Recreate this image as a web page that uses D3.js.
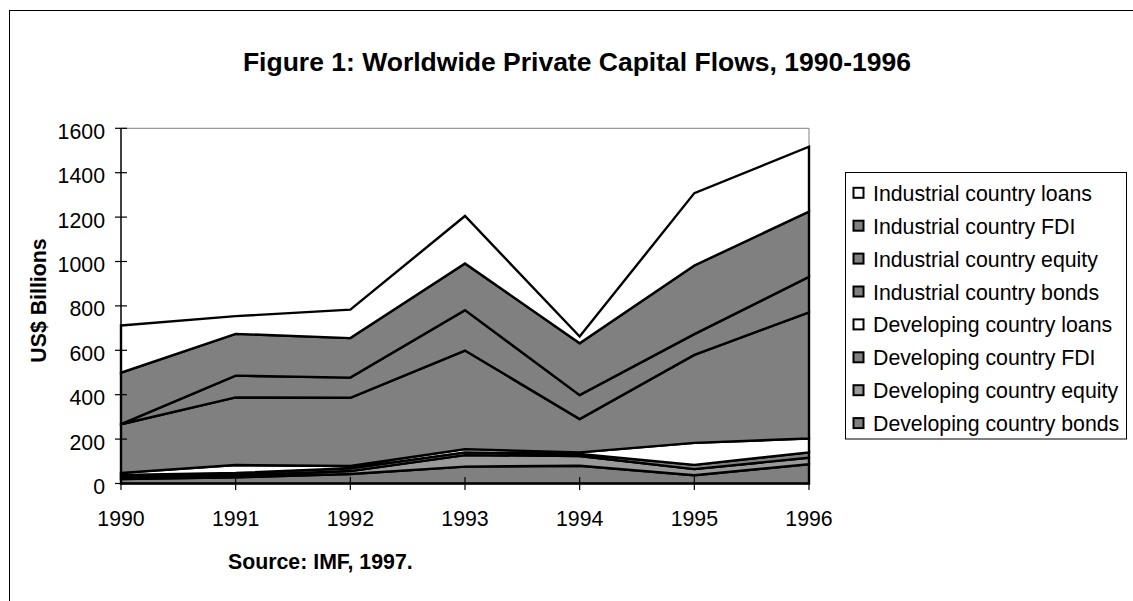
<!DOCTYPE html>
<html lang="en">

<head>
  <meta charset="UTF-8">
  <title>Worldwide Private Capital Flows, 1990-1996</title>
  <script src="https://d3js.org/d3.v7.min.js"></script>
  <style>
    body { margin: 0; background: #fff; }
    text { font-family: Arial, "Liberation Sans", sans-serif; fill: #000; }
  </style>
</head>

<body>
  <svg id="chart" width="1133" height="601"></svg>

  <script>
    // data (US$ billions), stacked bottom to top
    const years = [1990, 1991, 1992, 1993, 1994, 1995, 1996];
    const devBonds = [20, 28, 43, 76, 80, 37, 87];
    const devEquity = [8, 8, 13, 52, 44, 28, 29];
    const devFDI = [10, 11, 13, 12, 9, 19, 24];
    const devLoans = [10, 36, 10, 15, 7, 99, 63];
    const indBonds = [219, 305, 307, 444, 150, 396, 568];
    const indEquity = [0, 98, 91, 182, 108, 94, 160];
    const indFDI = [232, 188, 178, 210, 234, 309, 294];
    const indLoans = [213, 80, 128, 214, 30, 326, 292];
    const yTicks = [0, 200, 400, 600, 800, 1000, 1200, 1400, 1600];

    const series = [
      { key: "devBonds", label: "Developing country bonds", values: devBonds, color: "#808080" },
      { key: "devEquity", label: "Developing country equity", values: devEquity, color: "#999999" },
      { key: "devFDI", label: "Developing country FDI", values: devFDI, color: "#808080" },
      { key: "devLoans", label: "Developing country loans", values: devLoans, color: "#ffffff" },
      { key: "indBonds", label: "Industrial country bonds", values: indBonds, color: "#808080" },
      { key: "indEquity", label: "Industrial country equity", values: indEquity, color: "#808080" },
      { key: "indFDI", label: "Industrial country FDI", values: indFDI, color: "#808080" },
      { key: "indLoans", label: "Industrial country loans", values: indLoans, color: "#ffffff" }
    ];

    const rows = years.map((y, i) => {
      const r = { year: y };
      series.forEach(s => { r[s.key] = s.values[i]; });
      return r;
    });

    const svg = d3.select("#chart");
    const fontSize = 21.3;

    // outer chart border
    svg.append("rect")
      .attr("x", 9.5).attr("y", 10.5)
      .attr("width", 1200).attr("height", 700)
      .attr("fill", "none").attr("stroke", "#000").attr("stroke-width", 1);

    const x = d3.scalePoint().domain(years).range([121, 809]);
    const y = d3.scaleLinear().domain([0, 1600]).range([483.5, 128.3]);

    // plot frame (top + right)
    svg.append("path")
      .attr("d", `M${x(1990)},${y(1600)}H${x(1996)}V${y(0)}`)
      .attr("fill", "none").attr("stroke", "#808080").attr("stroke-width", 1);

    const stack = d3.stack().keys(series.map(s => s.key));
    const stacked = stack(rows);

    const area = d3.area()
      .x(d => x(d.data.year))
      .y0(d => y(d[0]))
      .y1(d => y(d[1]));

    svg.append("g").selectAll("path")
      .data(stacked)
      .join("path")
      .attr("d", area)
      .attr("fill", (d, i) => series[i].color)
      .attr("stroke", "#000")
      .attr("stroke-width", 2.4)
      .attr("stroke-linejoin", "miter");

    // y axis
    const yAxis = svg.append("g");
    yAxis.append("line")
      .attr("x1", 121).attr("x2", 121)
      .attr("y1", y(1600)).attr("y2", y(0))
      .attr("stroke", "#000").attr("stroke-width", 1.5);
    yAxis.selectAll("line.tick")
      .data(yTicks)
      .join("line")
      .attr("class", "tick")
      .attr("x1", 115).attr("x2", 127)
      .attr("y1", d => y(d)).attr("y2", d => y(d))
      .attr("stroke", "#000").attr("stroke-width", 1.2);
    yAxis.selectAll("text")
      .data(yTicks)
      .join("text")
      .attr("x", 105)
      .attr("y", d => y(d) + 10.5)
      .attr("text-anchor", "end")
      .style("font-size", fontSize + "px")
      .text(d => d);

    // x axis
    const xAxis = svg.append("g");
    xAxis.append("line")
      .attr("x1", x(1990)).attr("x2", x(1996))
      .attr("y1", y(0)).attr("y2", y(0))
      .attr("stroke", "#000").attr("stroke-width", 1.5);
    xAxis.selectAll("line.tick")
      .data(years)
      .join("line")
      .attr("class", "tick")
      .attr("x1", d => x(d)).attr("x2", d => x(d))
      .attr("y1", 477).attr("y2", 490)
      .attr("stroke", "#000").attr("stroke-width", 1.2);
    xAxis.selectAll("text")
      .data(years)
      .join("text")
      .attr("x", d => x(d))
      .attr("y", 526)
      .attr("text-anchor", "middle")
      .style("font-size", fontSize + "px")
      .text(d => d);

    // titles
    svg.append("text")
      .attr("x", 577).attr("y", 71)
      .attr("text-anchor", "middle")
      .style("font-size", "26.5px")
      .style("font-weight", "bold")
      .text("Figure 1: Worldwide Private Capital Flows, 1990-1996");

    svg.append("text")
      .attr("transform", "translate(46,300.5) rotate(-90)")
      .attr("text-anchor", "middle")
      .style("font-size", fontSize + "px")
      .style("font-weight", "bold")
      .text("US$ Billions");

    svg.append("text")
      .attr("x", 228).attr("y", 569)
      .style("font-size", fontSize + "px")
      .style("font-weight", "bold")
      .text("Source: IMF, 1997.");

    // legend, top series first
    const legend = svg.append("g");
    legend.append("rect")
      .attr("x", 845.5).attr("y", 172.5)
      .attr("width", 281).attr("height", 266.5)
      .attr("fill", "#fff").attr("stroke", "#000").attr("stroke-width", 1);

    const legendItems = series.slice().reverse();
    const item = legend.selectAll("g.item")
      .data(legendItems)
      .join("g")
      .attr("class", "item")
      .attr("transform", (d, i) => `translate(0,${193.3 + i * 32.9})`);

    item.append("rect")
      .attr("x", 853.5).attr("y", -5.5)
      .attr("width", 10).attr("height", 10)
      .attr("fill", d => d.color)
      .attr("stroke", "#000").attr("stroke-width", 2);

    item.append("text")
      .attr("x", 873)
      .attr("y", 7.5)
      .style("font-size", fontSize + "px")
      .text(d => d.label);
  </script>

</body>

</html>
